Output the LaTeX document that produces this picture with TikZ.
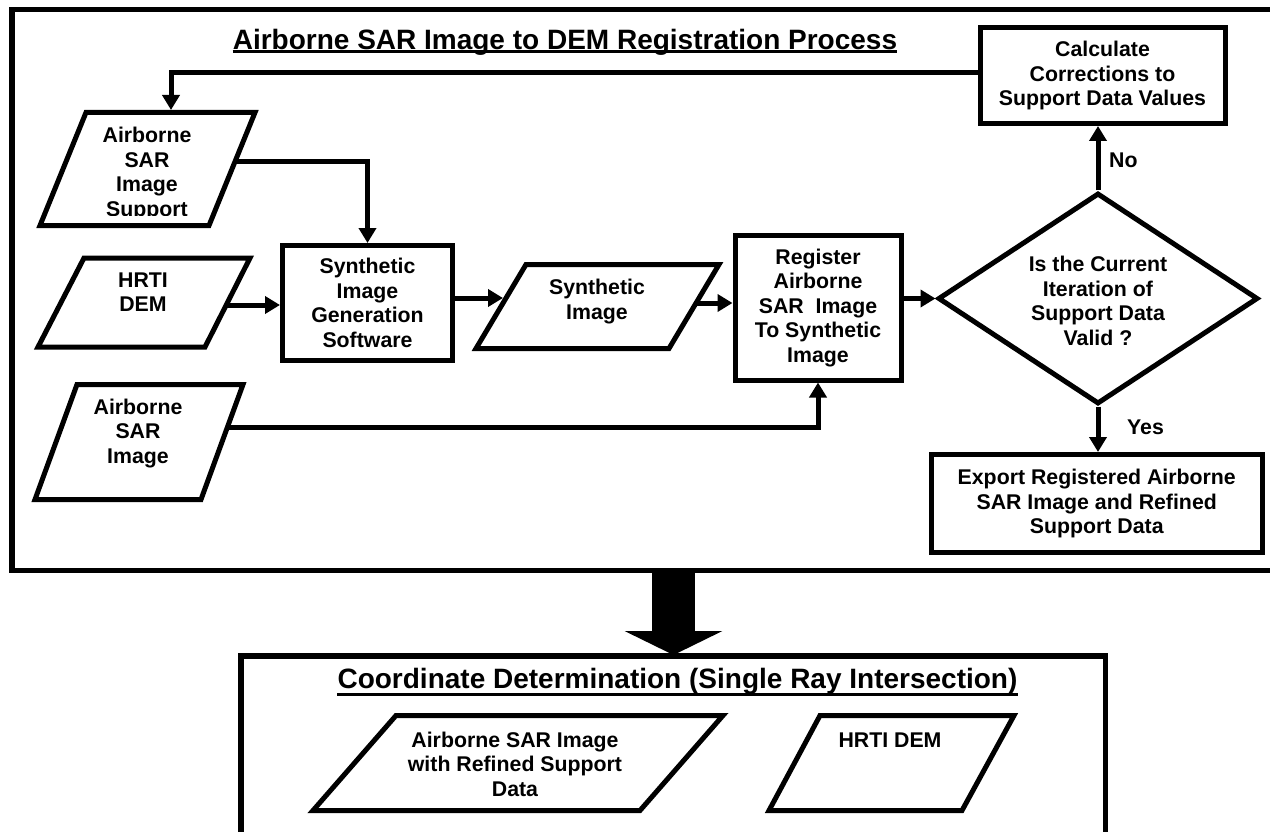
\documentclass[tikz,border=0pt]{standalone}
\usepackage{fontspec}
\setmainfont{Liberation Sans}
\usetikzlibrary{arrows.meta,shapes.geometric,calc}
\newcommand{\dgfont}{\fontsize{21.3}{24.6}\selectfont\bfseries}
\newcommand{\dgtitle}{\fontsize{28}{32}\selectfont\bfseries}
\begin{document}
\begin{tikzpicture}[x=1pt,y=-1pt,
  txt/.style={font=\dgfont, align=center, inner sep=0pt},
  box/.style={draw, line width=5pt, inner sep=0pt, font=\dgfont, align=center},
  para/.style={draw, line width=5pt},
  arr/.style={line width=5pt, -{Triangle[width=17pt,length=15pt]}},
  ttl/.style={font=\dgtitle, inner sep=0pt, anchor=base},
  ul/.style={line width=3pt},
  frm/.style={draw, line width=5.5pt, inner sep=0pt, outer sep=0pt},
]
\useasboundingbox (0,0) rectangle (1270,832);
\clip (0,0) rectangle (1270,832);

% ---------- upper frame ----------
\node[frm, minimum width=1273pt, minimum height=561pt] (frame) at (648.5,290) {};
\node[ttl] (t1) at (565,49.3) {Airborne SAR Image to DEM Registration Process};
\draw[ul] ([yshift=-2.4pt]t1.base west) -- ([yshift=-2.4pt]t1.base east);

% parallelograms (inputs / outputs)
\draw[para] (86,112.5) -- (255,112.5) -- (209,225.5) -- (40,225.5) -- cycle;
\begin{scope}
  \clip (0,0) rectangle (400,216);
  \node[txt] (At) at (147,174) {Airborne\\SAR\\Image\\Support};
\end{scope}
\draw[para] (84,258) -- (250,258) -- (205,347) -- (38,347) -- cycle;
\node[txt] (Bt) at (143,292) {HRTI\\DEM};
\draw[para] (77,384.5) -- (243,384.5) -- (201,499.5) -- (35,499.5) -- cycle;
\node[txt] (Ct) at (138,433.5) {Airborne\\SAR\\Image};
\draw[para] (526,264.5) -- (719,264.5) -- (669,348.5) -- (476,348.5) -- cycle;
\node[txt] (Dt) at (597,301.5) {Synthetic\\Image};

% process boxes
\node[box, minimum width=170pt, minimum height=115pt] (synth) at (367.5,303) {Synthetic\\Image\\Generation\\Software};
\node[box, minimum width=166pt, minimum height=144.5pt] (reg) at (818,307.75) {Register\\Airborne\\SAR\ \ Image\\To Synthetic\\Image};
\node[box, minimum width=245pt, minimum height=96pt] (calc) at (1102.5,75.5) {Calculate\\Corrections to\\Support Data Values};
\node[box, minimum width=330.5pt, minimum height=98pt] (exp) at (1096.75,503.5) {Export Registered Airborne\\SAR Image and Refined\\Support Data};
\node[draw, diamond, line width=5pt, minimum width=320pt, minimum height=211pt, inner sep=0pt, aspect=1.5] (dia) at (1098,298.5) {};
\node[txt] (diat) at (1098,301) {Is the Current\\Iteration of\\Support Data\\Valid ?};

% connector end points on parallelogram sides
\coordinate (Atop) at (171,110);
\coordinate (Ar) at (235,162);
\coordinate (Br) at (226,305);
\coordinate (Cr) at (227.5,427);
\coordinate (Dl) at (503,298);
\coordinate (Dr) at (696,303);

% connectors
\draw[arr] ([yshift=2.5pt]calc.west) -| (Atop);
\draw[arr] (Ar) -| (synth.north);
\draw[arr] (Br) -- (Br -| synth.west);
\draw[arr] (synth.east |- Dl) -- (Dl);
\draw[arr] (Dr) -- (Dr -| reg.west);
\draw[arr] (Cr) -| (reg.south);
\draw[arr] (reg.east |- dia.west) -- (dia.west);
\draw[arr] (dia.north) -- (dia.north |- calc.south);
\node[txt, anchor=west] (no) at (1109,160) {No};
\draw[arr] (dia.south) -- (dia.south |- exp.north);
\node[txt, anchor=west] (yes) at (1127,427) {Yes};

% ---------- lower frame ----------
\node[frm, minimum width=864.5pt, minimum height=214pt] (cbox) at (673.25,763) {};
\coordinate (bigS) at (673.5,570.5);
\coordinate (bigT) at (673.5,655);
\draw[line width=43pt, -{Triangle[width=97pt,length=24pt]}] (bigS) -- (bigT);
\node[ttl] (t2) at (677.5,688) {Coordinate Determination (Single Ray Intersection)};
\draw[ul] ([yshift=-6pt]t2.base west) -- ([yshift=-6pt]t2.base east);
\draw[para] (396,715.5) -- (723,715.5) -- (640,810.5) -- (313,810.5) -- cycle;
\node[txt] (Et) at (515,764) {Airborne SAR Image\\with Refined Support\\Data};
\draw[para] (820,715.5) -- (1014,715.5) -- (962,810.5) -- (769,810.5) -- cycle;
\node[txt] (Ft) at (890,740) {HRTI DEM};
\end{tikzpicture}
\end{document}
